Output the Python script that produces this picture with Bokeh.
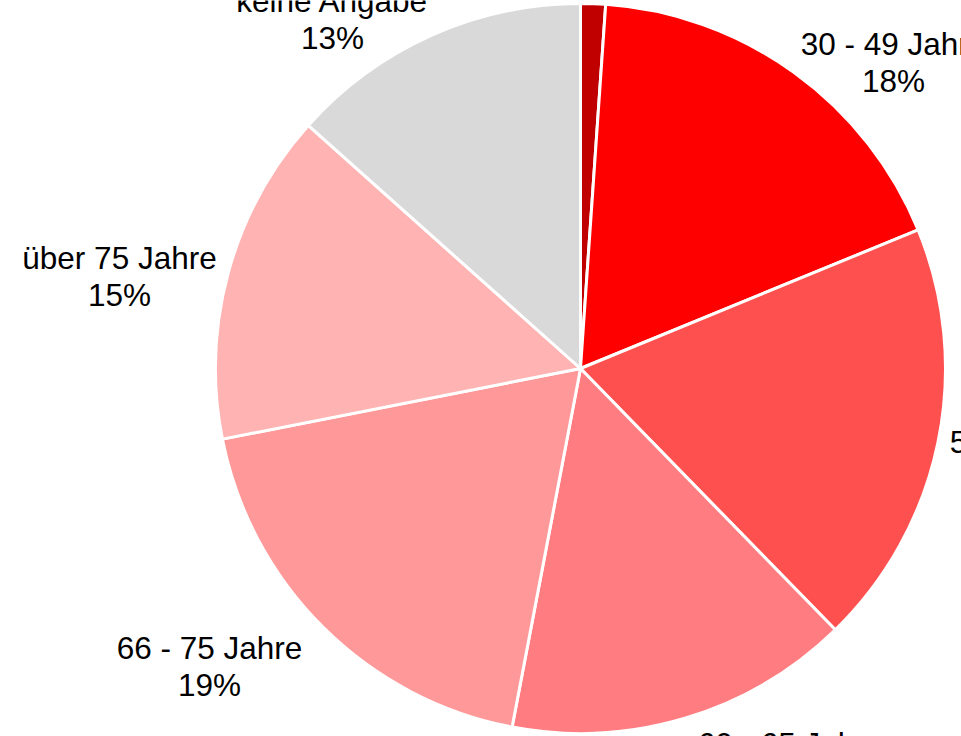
import math
from bokeh.plotting import figure
from bokeh.models import Range1d, ColumnDataSource
from bokeh.core.properties import value
from bokeh.embed import file_html
from bokeh.resources import INLINE

# ---- data ----
categories = ["unter 30 Jahre", "30 - 49 Jahre", "50 - 59 Jahre", "60 - 65 Jahre",
              "66 - 75 Jahre", "über 75 Jahre", "keine Angabe"]
shares = [1.1, 17.7, 18.9, 15.3, 18.9, 14.7, 13.4]
colors = ["#C00000", "#FF0000", "#FF5050", "#FF7C80", "#FF9999", "#FFB3B3", "#D9D9D9"]

# ---- layout (page pixel coordinates) ----
CX, CY, R = 580, 368, 365
# label anchor (centre x, first-line baseline y); None = label lies outside the view
label_pos = [None, (893, 43), (1042, 441), (790, 743), (209, 647), (119, 257), (332, 0)]
LINE = 37

total = sum(shares)
starts, ends, pcts = [], [], []
cum = 0.0
for v in shares:
    starts.append(math.pi / 2 - 2 * math.pi * cum / total)
    cum += v
    ends.append(math.pi / 2 - 2 * math.pi * cum / total)
    pcts.append(f"{round(100 * v / total)}%")

src = ColumnDataSource(dict(start=starts, end=ends, color=colors))

W, H = 961, 736
p = figure(width=W, height=H, output_backend="svg", toolbar_location=None,
           x_range=Range1d(0, W), y_range=Range1d(-H, 0),
           min_border=0, outline_line_color=None, background_fill_color="white")
p.axis.visible = False
p.grid.visible = False

p.wedge(x=CX, y=-CY, radius=R, start_angle="start", end_angle="end",
        direction="clock", fill_color="color", line_color="white",
        line_width=3, source=src)

idx = [i for i, pos in enumerate(label_pos) if pos is not None]
lab = ColumnDataSource(dict(x=[label_pos[i][0] for i in idx],
                            y1=[-label_pos[i][1] for i in idx],
                            y2=[-(label_pos[i][1] + LINE) for i in idx],
                            name=[categories[i] for i in idx],
                            pct=[pcts[i] for i in idx]))
for col, ycol in (("name", "y1"), ("pct", "y2")):
    p.text(x="x", y=ycol, text=col, source=lab, text_align="center",
           text_baseline="alphabetic", text_font=value("Liberation Sans"),
           text_font_size="31.5px", text_color="black")

open("out.html", "w").write(file_html(p, INLINE))
